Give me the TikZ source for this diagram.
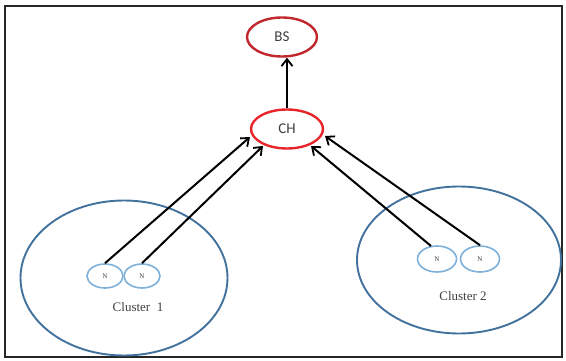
\documentclass[tikz,border=0pt]{standalone}
\usepackage{fontspec}
\setmainfont{Liberation Serif}
\newfontfamily\labelfont{Carlito}
\usetikzlibrary{shapes.geometric,arrows.meta}
\definecolor{bsred}{HTML}{C0282D}
\definecolor{chred}{HTML}{E8252B}
\definecolor{clblue}{HTML}{41719C}
\definecolor{nblue}{HTML}{7EB0DA}
\definecolor{txtgray}{HTML}{404040}
\begin{document}
\begin{tikzpicture}[x=1pt,y=-1pt,
  station/.style={ellipse,draw,line width=2.4pt,minimum width=70pt,minimum height=39pt,inner sep=0pt,
    font=\labelfont\fontsize{15}{15}\selectfont,text=txtgray},
  cluster/.style={ellipse,draw=clblue,line width=1.9pt,inner sep=0pt},
  sensor/.style={ellipse,draw=nblue,line width=1.6pt,minimum width=36pt,minimum height=24pt,inner sep=0pt,
    font=\fontsize{7}{7}\selectfont,text=txtgray},
  cltext/.style={font=\fontsize{13}{13}\selectfont,text=txtgray},
  link/.style={line width=2pt,-{Straight Barb[length=7pt,width=11pt,line width=1.8pt]}}]
\useasboundingbox (0,0) rectangle (566,361);
% outer frame
\draw[line width=1.6pt,black!85] (5,6) rectangle (562,357);

% base station and cluster head
\node[station,draw=bsred] (bs) at (282,37) {BS};
\node[station,draw=chred,minimum width=72pt] (ch) at (287,129) {CH};

% clusters
\node[cluster,minimum width=207pt,minimum height=155pt] (c1) at (124,278) {};
\node[cluster,minimum width=204pt,minimum height=147pt] (c2) at (459,260) {};

% member nodes
\node[sensor] (n1) at (105,276) {N};
\node[sensor] (n2) at (142,276) {N};
\node[sensor,minimum width=39pt,minimum height=26pt] (n3) at (437,259) {N};
\node[sensor,minimum width=39pt,minimum height=26pt] (n4) at (480,259) {N};

\node[cltext] (l1) at (138,307) {Cluster\ \ 1};
\node[cltext] (l2) at (463,296) {Cluster 2};

% links
\coordinate (a1) at (250,137);
\coordinate (a2) at (263,146);
\coordinate (a3) at (311,146);
\coordinate (a4) at (325,136);
\coordinate (s3) at (431,246);
\draw[link] (n1.north) -- (a1);
\draw[link] (n2.north) -- (a2);
\draw[link] (s3) -- (a3);
\draw[link] (n4.north) -- (a4);
\draw[link] (ch.north) -- (ch.north |- bs.south);
\end{tikzpicture}
\end{document}
